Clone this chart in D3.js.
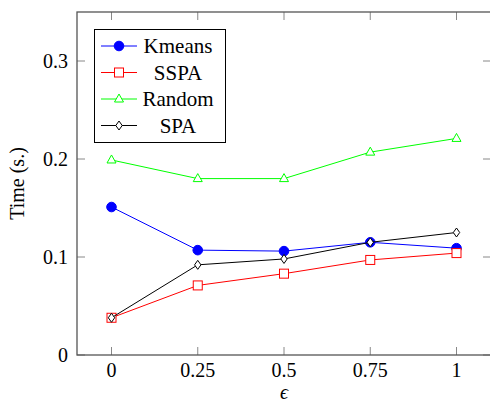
<!DOCTYPE html>
<html>
<head>
<meta charset="utf-8">
<script src="https://cdn.jsdelivr.net/npm/d3@7"></script>
<style>
  body { margin: 0; background: #fff; }
  text { font-family: "Liberation Serif", "DejaVu Serif", "Times New Roman", serif; }
</style>
</head>
<body>
<script>
var eps = [0, 0.25, 0.5, 0.75, 1]
var kmeans = [0.151, 0.107, 0.106, 0.115, 0.109]
var sspa = [0.038, 0.071, 0.083, 0.097, 0.104]
var random = [0.199, 0.180, 0.180, 0.207, 0.221]
var spa = [0.038, 0.092, 0.098, 0.115, 0.125]
var xTicks = [0, 0.25, 0.5, 0.75, 1]
var yTicks = [0, 0.1, 0.2, 0.3]

var w = 490, h = 403
var plotLeft = 77, plotRight = 491, plotTop = 12, plotBottom = 355
var serif = "'Liberation Serif', 'DejaVu Serif', 'Times New Roman', serif"

var svg = d3.select("body").append("svg")
  .attr("width", w)
  .attr("height", h)
  .attr("font-family", serif)

var x = d3.scaleLinear().domain([-0.1, 1.1]).range([plotLeft, plotRight])
var y = d3.scaleLinear().domain([0, 0.35]).range([plotBottom, plotTop])

var tickColor = "#888"
var tickLen = 8

// ticks on all four sides, pointing inward
xTicks.forEach(function (t) {
  svg.append("line").attr("x1", x(t)).attr("x2", x(t))
    .attr("y1", plotBottom).attr("y2", plotBottom - tickLen)
    .attr("stroke", tickColor).attr("stroke-width", 1)
  svg.append("line").attr("x1", x(t)).attr("x2", x(t))
    .attr("y1", plotTop).attr("y2", plotTop + tickLen)
    .attr("stroke", tickColor).attr("stroke-width", 1)
  svg.append("text").attr("x", x(t)).attr("y", plotBottom + 22)
    .attr("text-anchor", "middle").attr("font-size", 20)
    .text(d3.format("")(t))
})
yTicks.forEach(function (t) {
  svg.append("line").attr("x1", plotLeft).attr("x2", plotLeft + tickLen)
    .attr("y1", y(t)).attr("y2", y(t))
    .attr("stroke", tickColor).attr("stroke-width", 1)
  svg.append("line").attr("x1", plotRight).attr("x2", plotRight - tickLen)
    .attr("y1", y(t)).attr("y2", y(t))
    .attr("stroke", tickColor).attr("stroke-width", 1)
  svg.append("text").attr("x", plotLeft - 9).attr("y", y(t) + 7)
    .attr("text-anchor", "end").attr("font-size", 20)
    .text(d3.format("")(t))
})

svg.append("rect")
  .attr("x", plotLeft).attr("y", plotTop)
  .attr("width", plotRight - plotLeft).attr("height", plotBottom - plotTop)
  .attr("fill", "none").attr("stroke", "#555").attr("stroke-width", 1.3)

svg.append("text")
  .attr("transform", "translate(24," + ((plotTop + plotBottom) / 2) + ") rotate(-90)")
  .attr("text-anchor", "middle").attr("font-size", 20)
  .text("Time (s.)")

svg.append("text")
  .attr("x", x(0.5)).attr("y", 399)
  .attr("text-anchor", "middle").attr("font-size", 20)
  .attr("font-style", "italic")
  .text("ϵ")

var series = [
  { name: "Kmeans", values: kmeans, color: "#0000ff", marker: "circle" },
  { name: "SSPA", values: sspa, color: "#ff0000", marker: "square" },
  { name: "Random", values: random, color: "#00ff00", marker: "triangle" },
  { name: "SPA", values: spa, color: "#000000", marker: "diamond" }
]

function drawMarker(g, type, color, cx, cy) {
  if (type == "circle")
    g.append("circle").attr("cx", cx).attr("cy", cy).attr("r", 4.8)
      .attr("fill", color).attr("stroke", color)
  else if (type == "square")
    g.append("rect").attr("x", cx - 4.5).attr("y", cy - 4.5)
      .attr("width", 9).attr("height", 9)
      .attr("fill", "#fff").attr("stroke", color)
  else if (type == "triangle")
    g.append("path")
      .attr("d", "M" + cx + "," + (cy - 5) + "L" + (cx + 4.5) + "," + (cy + 3)
        + "L" + (cx - 4.5) + "," + (cy + 3) + "Z")
      .attr("fill", "#fff").attr("stroke", color)
  else
    g.append("path")
      .attr("d", "M" + cx + "," + (cy - 4.5) + "L" + (cx + 3.2) + "," + cy
        + "L" + cx + "," + (cy + 4.5) + "L" + (cx - 3.2) + "," + cy + "Z")
      .attr("fill", "#fff").attr("stroke", color)
}

var line = d3.line()
  .x(function (d, i) { return x(eps[i]) })
  .y(function (d) { return y(d) })

series.forEach(function (s) {
  var g = svg.append("g")
  g.append("path").datum(s.values)
    .attr("d", line)
    .attr("fill", "none").attr("stroke", s.color).attr("stroke-width", 1)
  s.values.forEach(function (v, i) {
    drawMarker(g, s.marker, s.color, x(eps[i]), y(v))
  })
})

// legend
var lg = svg.append("g")
lg.append("rect").attr("x", 94.5).attr("y", 29.5)
  .attr("width", 131).attr("height", 113)
  .attr("fill", "#fff").attr("stroke", "#000").attr("stroke-width", 1)
series.forEach(function (s, i) {
  var ly = 46 + i * 26.5
  lg.append("line").attr("x1", 101).attr("x2", 137)
    .attr("y1", ly).attr("y2", ly)
    .attr("stroke", s.color).attr("stroke-width", 1)
  drawMarker(lg, s.marker, s.color, 119, ly)
  lg.append("text").attr("x", 178).attr("y", ly + 7)
    .attr("text-anchor", "middle").attr("font-size", 21)
    .text(s.name)
})
</script>
</body>
</html>
